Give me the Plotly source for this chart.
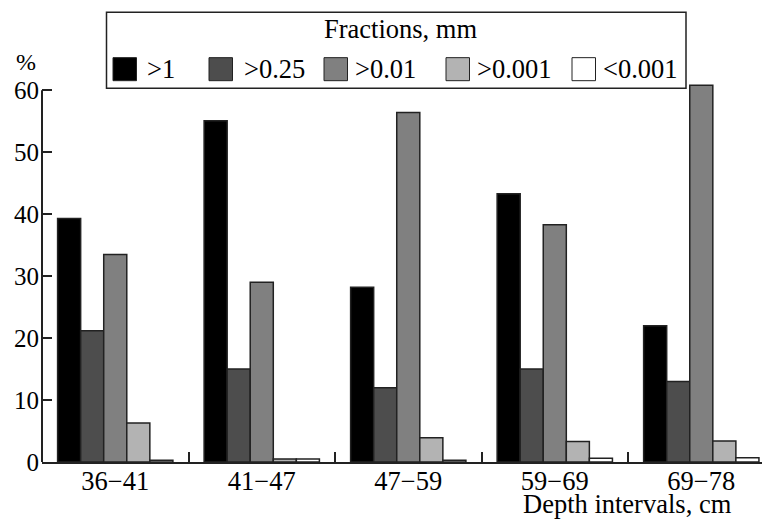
import plotly.graph_objects as go

# ---- data ----
categories = ["36−41", "41−47", "47−59", "59−69", "69−78"]
fraction_names = [">1", ">0.25", ">0.01", ">0.001", "<0.001"]
frac_gt_1 = [39.3, 55.1, 28.2, 43.3, 22.0]
frac_gt_0_25 = [21.2, 15.0, 12.0, 15.0, 13.0]
frac_gt_0_01 = [33.5, 29.0, 56.4, 38.3, 60.8]
frac_gt_0_001 = [6.3, 0.5, 3.9, 3.3, 3.4]
frac_lt_0_001 = [0.3, 0.5, 0.3, 0.6, 0.7]
y_ticks = [0, 10, 20, 30, 40, 50, 60]

series = [frac_gt_1, frac_gt_0_25, frac_gt_0_01, frac_gt_0_001, frac_lt_0_001]
colors = ["#000000", "#4d4d4d", "#808080", "#b3b3b3", "#ffffff"]

# page body has an 8px margin; figure placed at (8, 8) on screen
OFF = 8
SCREEN_W, SCREEN_H = 770, 520
W, H = SCREEN_W - OFF, SCREEN_H - OFF
Y_MAX = 61.5
ZERO_PX, SIXTY_PX = 462, 90.6          # screen y of 0 and 60
AXIS_X = 42                            # screen x of y axis
PH = (ZERO_PX - SIXTY_PX) * Y_MAX / 60
L = AXIS_X - OFF
R = 0
B = SCREEN_H - ZERO_PX
T = H - B - PH
PW = W - L - R
FONT = "Liberation Serif"
FS = 26.5


def px(x):
    """screen x -> paper"""
    return (x - AXIS_X) / PW


def py(y):
    """screen y -> paper"""
    return (ZERO_PX - y) / PH


fig = go.Figure()
for name, vals, col in zip(fraction_names, series, colors):
    fig.add_trace(go.Bar(
        x=categories, y=vals, name=name,
        marker=dict(color=col, line=dict(color="#222222", width=1.5)),
        showlegend=False,
    ))

shapes = []
annotations = []
# y axis line, 0..60
shapes.append(dict(type="line", xref="paper", yref="y", x0=0, x1=0,
                   y0=0, y1=60, line=dict(color="#222222", width=2)))
# legend box
shapes.append(dict(type="rect", xref="paper", yref="paper",
                   x0=px(106.5), x1=px(686), y0=py(88.5), y1=py(12.5),
                   line=dict(color="#222222", width=1.5), fillcolor="white"))
annotations.append(dict(text="Fractions, mm", xref="paper", yref="paper",
                        x=px(400), y=py(29.5), showarrow=False,
                        xanchor="center", yanchor="middle",
                        font=dict(family=FONT, size=FS, color="black")))
sw_x = [113, 209, 324, 446, 572]
txt_x = [146, 243, 354, 475.5, 602]
for i, (name, col) in enumerate(zip(fraction_names, colors)):
    x0 = sw_x[i]
    shapes.append(dict(type="rect", xref="paper", yref="paper",
                       x0=px(x0), x1=px(x0 + 23.5), y0=py(81), y1=py(58),
                       line=dict(color="#222222", width=1), fillcolor=col))
    annotations.append(dict(text=name, xref="paper", yref="paper",
                            x=px(txt_x[i]), y=py(69), showarrow=False,
                            xanchor="left", yanchor="middle", borderpad=0,
                            font=dict(family=FONT, size=FS, color="black")))

annotations.append(dict(text="%", xref="paper", yref="paper",
                        x=px(26), y=py(62), showarrow=False,
                        xanchor="center", yanchor="middle",
                        font=dict(family=FONT, size=24, color="black")))
annotations.append(dict(text="Depth intervals, cm", xref="paper", yref="paper",
                        x=px(627.5), y=py(520), showarrow=False,
                        xanchor="center", yanchor="bottom", borderpad=0,
                        font=dict(family=FONT, size=FS, color="black")))

fig.update_layout(
    template="none",
    width=W, height=H,
    margin=dict(l=L, r=R, t=T, b=B, pad=0, autoexpand=False),
    paper_bgcolor="white", plot_bgcolor="white",
    barmode="group", bargap=0.213, bargroupgap=0,
    shapes=shapes, annotations=annotations,
    font=dict(family=FONT, size=FS, color="black"),
)
fig.update_xaxes(
    range=[-0.5, 4.469], showgrid=False, zeroline=False, automargin=False,
    showline=True, linecolor="#222222", linewidth=2,
    ticks="inside", tickson="boundaries", ticklen=10, tickwidth=1.5,
    tickcolor="#222222", tickfont=dict(family=FONT, size=FS, color="black"),
    ticklabelstandoff=-6,
)
fig.update_yaxes(
    range=[0, Y_MAX], tickvals=y_ticks, showgrid=False, zeroline=False,
    automargin=False, showline=False,
    ticks="inside", ticklen=10, tickwidth=1.5, tickcolor="#222222",
    tickfont=dict(family=FONT, size=25, color="black"),
    ticklabelstandoff=2,
)

fig.write_html("out.html")
